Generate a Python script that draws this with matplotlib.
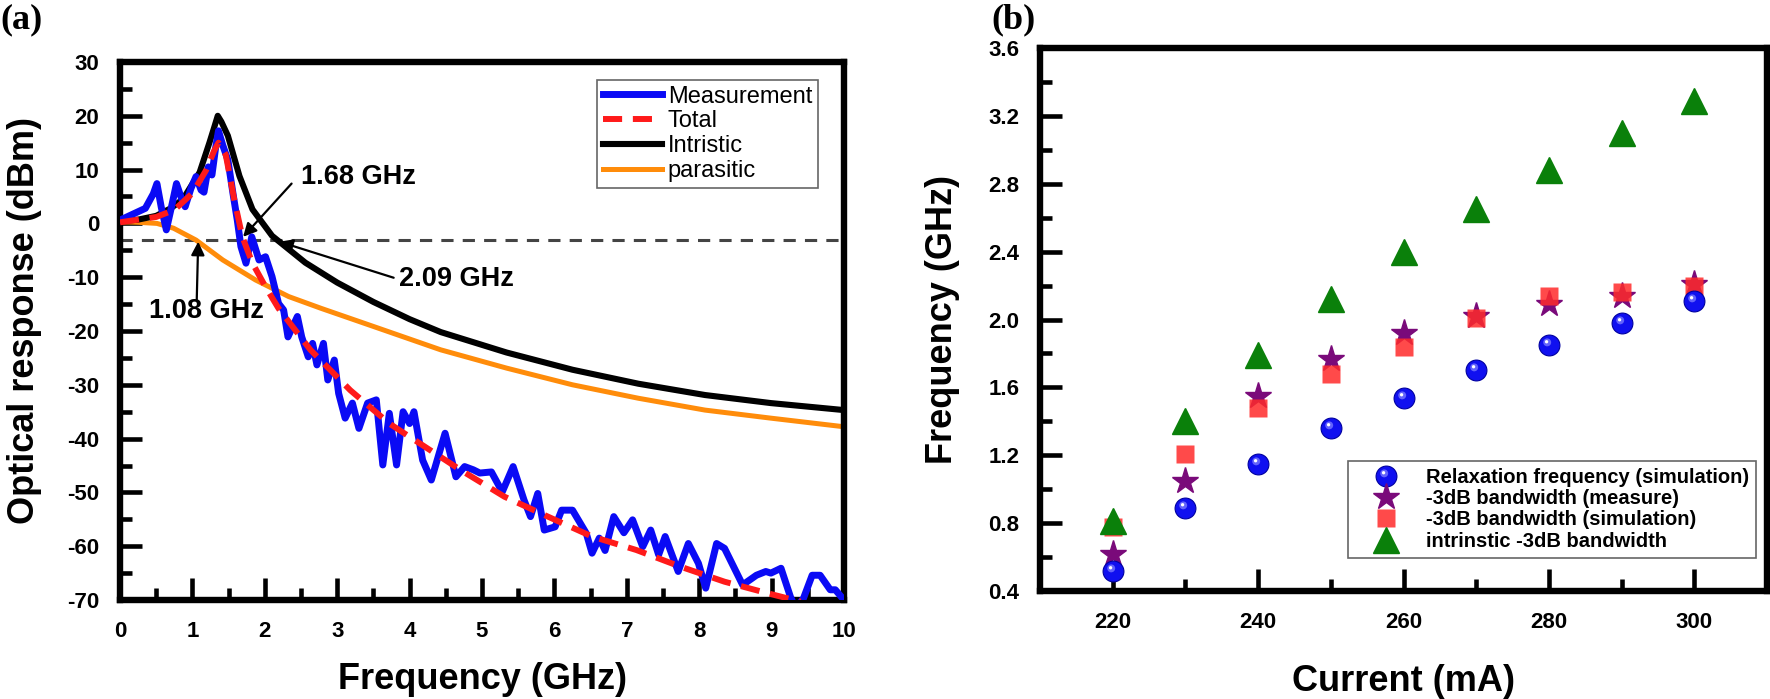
import matplotlib
matplotlib.use("Agg")
import matplotlib.pyplot as plt
from matplotlib.path import Path
from matplotlib.legend_handler import HandlerTuple
from matplotlib.ticker import MultipleLocator, FormatStrFormatter

plt.rcParams['font.family'] = ['Liberation Sans', 'DejaVu Sans']
plt.rcParams['font.weight'] = 'bold'
plt.rcParams['axes.labelweight'] = 'bold'
plt.rcParams['axes.unicode_minus'] = False

# ---- panel (a): optical response vs frequency ----
meas_f = [0.0, 0.35, 0.46, 0.51, 0.57, 0.64, 0.71, 0.78, 0.84, 0.90, 0.98, 1.05, 1.12, 1.16,
          1.22, 1.27, 1.32, 1.36, 1.42, 1.49, 1.56, 1.62, 1.67, 1.74, 1.82, 1.92, 2.01, 2.10,
          2.19, 2.26, 2.32, 2.45, 2.51, 2.60, 2.66, 2.72, 2.81, 2.87, 2.96, 3.02, 3.11, 3.21,
          3.30, 3.42, 3.54, 3.63, 3.72, 3.82, 3.91, 4.00, 4.06, 4.18, 4.30, 4.49, 4.64, 4.76,
          4.88, 4.97, 5.13, 5.28, 5.43, 5.58, 5.67, 5.77, 5.86, 6.01, 6.10, 6.25, 6.44, 6.52,
          6.62, 6.70, 6.82, 6.96, 7.08, 7.22, 7.33, 7.44, 7.53, 7.71, 7.85, 7.99, 8.09, 8.24,
          8.35, 8.60, 8.79, 8.92, 8.99, 9.13, 9.26, 9.33, 9.44, 9.56, 9.67, 9.81, 9.88, 10.0]
meas_db = [0.6, 2.8, 5.5, 7.4, 3.0, -1.2, 3.0, 7.4, 5.0, 3.1, 6.5, 8.7, 6.2, 5.8,
           10.5, 9.0, 14.0, 17.2, 14.5, 11.8, 5.6, 0.6, -4.3, -7.4, -2.5, -6.8, -6.2, -9.9,
           -14.9, -16.1, -21.1, -17.3, -21.1, -24.8, -22.3, -26.3, -22.3, -29.1, -25.4, -31.6, -36.2, -33.4,
           -38.1, -33.4, -32.8, -44.9, -35.3, -44.9, -35.0, -37.2, -35.0, -44.0, -47.7, -39.0, -47.1, -45.2,
           -45.8, -46.4, -46.2, -49.9, -45.2, -51.4, -54.5, -50.2, -57.0, -56.4, -53.3, -53.3, -57.6, -61.3,
           -58.5, -60.8, -54.5, -57.5, -55.1, -60.1, -57.0, -61.6, -58.2, -64.7, -59.5, -63.2, -67.8, -59.5,
           -60.4, -67.2, -65.4, -64.7, -65.0, -64.1, -69.4, -71.5, -69.7, -65.4, -65.4, -68.1, -68.1, -70.0]

tot_f = [0.0, 0.5, 0.75, 1.0, 1.19, 1.30, 1.36, 1.46, 1.58, 1.69, 1.83, 2.01, 2.19, 2.63,
         3.18, 3.72, 4.21, 4.70, 5.31, 5.91, 6.52, 7.13, 7.74, 8.35, 8.96, 9.40]
tot_db = [0.2, 1.2, 2.5, 5.6, 9.9, 13.5, 15.0, 12.8, 4.3, -2.5, -7.4, -11.8, -15.8, -23.5,
          -31.0, -37.2, -41.5, -45.8, -50.8, -54.5, -58.2, -60.7, -63.8, -66.6, -68.8, -70.3]

intr_f = [0.0, 0.25, 0.5, 0.7, 0.87, 1.10, 1.235, 1.30, 1.35, 1.40, 1.49, 1.65, 1.83, 2.10,
          2.56, 3.0, 3.5, 4.0, 4.43, 5.34, 6.25, 7.16, 8.08, 8.99, 10.0]
intr_db = [0.4, 0.7, 1.4, 2.8, 4.5, 9.5, 15.0, 17.8, 20.0, 18.9, 16.3, 8.8, 2.6, -2.3,
           -7.3, -11.0, -14.6, -17.8, -20.2, -24.0, -27.2, -29.8, -31.9, -33.4, -34.7]

par_f = [0.0, 0.25, 0.51, 0.74, 1.05, 1.42, 1.87, 2.33, 2.78, 3.51, 4.43, 5.34, 6.25, 7.16,
         8.08, 8.99, 10.0]
par_db = [0.3, 0.2, 0.0, -0.9, -3.1, -6.8, -10.5, -13.6, -15.8, -19.2, -23.5, -26.9, -30.0, -32.5,
          -34.7, -36.2, -37.8]

# ---- panel (b): frequencies vs current ----
current = [220, 230, 240, 250, 260, 270, 280, 290, 300]
relax = [0.52, 0.89, 1.15, 1.36, 1.54, 1.70, 1.85, 1.98, 2.11]
bw_meas = [0.62, 1.05, 1.55, 1.77, 1.92, 2.02, 2.09, 2.14, 2.21]
bw_sim = [0.78, 1.21, 1.48, 1.68, 1.84, 2.01, 2.14, 2.16, 2.20]
bw_intr = [0.81, 1.40, 1.79, 2.12, 2.40, 2.65, 2.88, 3.10, 3.29]

fig = plt.figure(figsize=(17.7, 6.99), dpi=100)
ax1 = fig.add_axes([120 / 1770, 99 / 699, 724 / 1770, 538 / 699])
ax2 = fig.add_axes([1040 / 1770, 108 / 699, 727 / 1770, 543 / 699])


def style_axes(ax):
    for s in ax.spines.values():
        s.set_linewidth(4.6)
        s.set_capstyle('projecting')
    ax.tick_params(which='both', direction='in', top=False, right=False,
                   width=3.3, labelsize=16, pad=15)
    ax.tick_params(which='major', length=16)
    ax.tick_params(which='minor', length=8.5)


# panel (a)
ax1.axhline(-3, color='#444444', lw=2.2, ls=(0, (4, 3)), zorder=1)
ax1.plot(par_f, par_db, color='#ff8c0a', lw=3.6, label='parasitic', zorder=2)
ax1.plot(intr_f, intr_db, color='black', lw=4.4, label='Intristic', zorder=3)
ax1.plot(meas_f, meas_db, color='#0a0af5', lw=5, solid_joinstyle='round',
         label='Measurement', zorder=4)
ax1.plot(tot_f, tot_db, color='#ff1a1a', lw=4.3, ls=(0, (3.2, 1.8)),
         label='Total', zorder=5)
ax1.set_xlim(0, 10)
ax1.set_ylim(-70, 30)
ax1.xaxis.set_major_locator(MultipleLocator(1))
ax1.xaxis.set_minor_locator(MultipleLocator(0.5))
ax1.yaxis.set_major_locator(MultipleLocator(10))
ax1.yaxis.set_minor_locator(MultipleLocator(5))
style_axes(ax1)
ax1.set_xlabel('Frequency (GHz)', fontsize=26, fontweight='bold')
ax1.set_ylabel('Optical response (dBm)', fontsize=26, fontweight='bold')
ax1.xaxis.set_label_coords(0.5, -0.115)
ax1.yaxis.set_label_coords(-0.108, 0.52)

arrow = dict(arrowstyle='-|>', color='black', lw=1.6, mutation_scale=20,
             shrinkA=0, shrinkB=0)
ax1.annotate('', xy=(1.70, -2.5), xytext=(2.37, 7.4), arrowprops=arrow)
ax1.annotate('', xy=(2.20, -3.4), xytext=(3.78, -10.1), arrowprops=arrow)
ax1.annotate('', xy=(1.08, -3.4), xytext=(1.06, -14.2), arrowprops=arrow)
ax1.text(2.5, 8.6, '1.68 GHz', fontsize=19.5, va='center', ha='left')
ax1.text(3.85, -10.3, '2.09 GHz', fontsize=19.5, va='center', ha='left')
ax1.text(0.4, -16.3, '1.08 GHz', fontsize=19.5, va='center', ha='left')

h, l = ax1.get_legend_handles_labels()
order = ['Measurement', 'Total', 'Intristic', 'parasitic']
hd = dict(zip(l, h))
leg1 = ax1.legend([hd[k] for k in order], order, loc='upper right',
                  bbox_to_anchor=(0.964, 0.967), borderaxespad=0,
                  prop={'weight': 'normal', 'size': 17}, handlelength=2.5,
                  handletextpad=0.25, borderpad=0.25, labelspacing=0.12,
                  fancybox=False, framealpha=1, edgecolor='#666666')
leg1.get_frame().set_linewidth(1.2)

# panel (b)
hl_mid = Path.make_compound_path(Path([(1, 1)], [Path.MOVETO]),
                                 Path([(-1, -1)], [Path.MOVETO]),
                                 Path.circle((-0.22, 0.3), 0.38))
hl_top = Path.make_compound_path(Path([(1, 1)], [Path.MOVETO]),
                                 Path([(-1, -1)], [Path.MOVETO]),
                                 Path.circle((-0.28, 0.36), 0.16))

st, = ax2.plot(current, bw_meas, ls='none', marker='*', ms=20, color='#7a0a7a',
               mec='#7a0a7a', zorder=3)
sq, = ax2.plot(current, bw_sim, ls='none', marker='s', ms=13, color='#ff2a2a',
               alpha=0.85, mec='none', zorder=4)
c1, = ax2.plot(current, relax, ls='none', marker='o', ms=15, mfc='#1010f0',
               mec='#0000a0', mew=0.8, zorder=5)
c2, = ax2.plot(current, relax, ls='none', marker=hl_mid, ms=15, mfc='#8080ff',
               mec='none', alpha=0.75, zorder=6)
c3, = ax2.plot(current, relax, ls='none', marker=hl_top, ms=15, mfc='white',
               mec='none', zorder=7)
tr, = ax2.plot(current, bw_intr, ls='none', marker='^', ms=19, color='#0a800a',
               mec='#0a800a', zorder=8)
ax2.set_xlim(210, 310)
ax2.set_ylim(0.4, 3.6)
ax2.xaxis.set_major_locator(MultipleLocator(20))
ax2.xaxis.set_minor_locator(MultipleLocator(10))
ax2.yaxis.set_major_locator(MultipleLocator(0.4))
ax2.yaxis.set_minor_locator(MultipleLocator(0.2))
ax2.yaxis.set_major_formatter(FormatStrFormatter('%.1f'))
style_axes(ax2)
ax2.set_xlabel('Current (mA)', fontsize=26, fontweight='bold')
ax2.set_ylabel('Frequency (GHz)', fontsize=26, fontweight='bold')
ax2.xaxis.set_label_coords(0.5, -0.135)
ax2.yaxis.set_label_coords(-0.11, 0.5)

leg2 = ax2.legend([(c1, c2, c3), st, sq, tr],
                  ['Relaxation frequency (simulation)', '-3dB bandwidth (measure)',
                   '-3dB bandwidth (simulation)', 'intrinstic -3dB bandwidth'],
                  handler_map={tuple: HandlerTuple(ndivide=1)},
                  loc='lower right', bbox_to_anchor=(0.985, 0.061), borderaxespad=0,
                  prop={'weight': 'bold', 'size': 14.5}, numpoints=1,
                  handlelength=3.0, handletextpad=0.5, borderpad=0.35,
                  labelspacing=0.12, fancybox=False, framealpha=1, edgecolor='#666666')
leg2.get_frame().set_linewidth(1.2)

fig.text(0.0, 0.995, '(a)', family='Liberation Serif', fontsize=26, weight='bold',
         va='top', ha='left')
fig.text(991 / 1770, 0.995, '(b)', family='Liberation Serif', fontsize=26, weight='bold',
         va='top', ha='left')

fig.savefig('out.png', dpi=100)
